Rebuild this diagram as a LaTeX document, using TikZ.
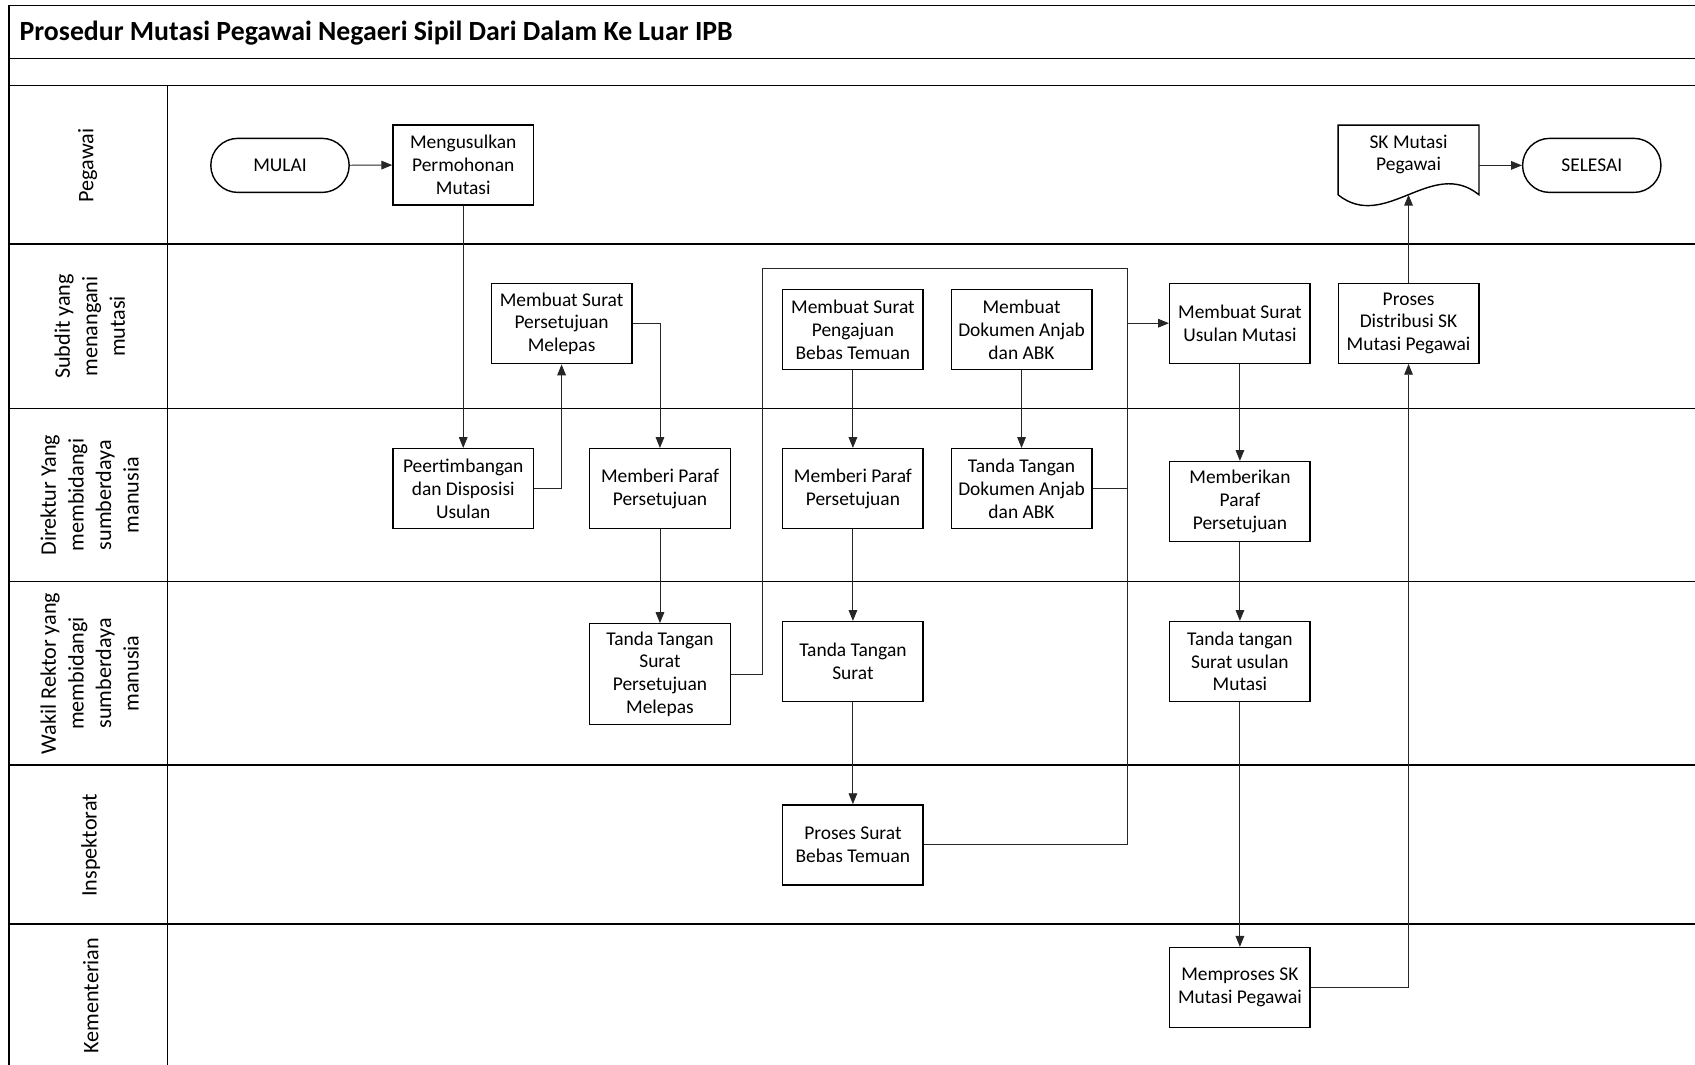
\documentclass[tikz,border=0pt]{standalone}
\usepackage{fontspec}
\setmainfont{Carlito}
\usetikzlibrary{arrows.meta,calc}
\begin{document}
\begin{tikzpicture}[x=1pt,y=-1pt,
  box/.style={draw, line width=1.3pt, minimum width=130pt, minimum height=74pt, align=center,
    font=\fontsize{18}{21}\selectfont, inner sep=2pt},
  term/.style={draw, line width=1.3pt, rounded corners=25pt, minimum width=128pt,
    minimum height=50pt, font=\fontsize{18}{21}\selectfont},
  lane/.style={line width=1.6pt},
  conn/.style={line width=0.8pt, draw=black!85},
  arr/.style={conn, -{Triangle[length=10pt,width=8pt]}},
  lanelbl/.style={rotate=90, align=center, font=\fontsize{20.5}{25.5}\selectfont, inner sep=0pt},
]
\useasboundingbox (0,0) rectangle (1568,985);

% frame and lanes
\draw[lane] (8,985) -- (8,5) -- (1568,5);
\draw[lane] (8,54) -- (1568,54);
\draw[lane] (8,79) -- (1568,79);
\foreach \yy in {226,378,538,708,855} \draw[lane] (8,\yy) -- (1568,\yy);
\draw[line width=1pt] (155,79) -- (155,985);

\node[anchor=west, inner sep=0pt, font=\bfseries\fontsize{25.7}{30}\selectfont] (title) at (18,31)
  {Prosedur Mutasi Pegawai Negaeri Sipil Dari Dalam Ke Luar IPB};

% lane labels
\node[lanelbl] (l1) at (81,153) {Pegawai};
\node[lanelbl] (l2) at (83,302) {Subdit yang\\menangani\\mutasi};
\node[lanelbl] (l3) at (83,458) {Direktur Yang\\membidangi\\sumberdaya\\manusia};
\node[lanelbl] (l4) at (83,623) {Wakil Rektor yang\\membidangi\\sumberdaya\\manusia};
\node[lanelbl] (l5) at (84,782) {Inspektorat};
\node[lanelbl] (l6) at (84,921) {Kementerian};

% nodes
\node[term] (mulai) at (259,153) {MULAI};
\node[box] (usul) at (428.5,152.5) {Mengusulkan\\Permohonan\\Mutasi};
\node[term] (selesai) at (1472.5,153) {SELESAI};

\node[minimum width=130pt, minimum height=64pt, inner sep=0pt] (sk) at (1303,148) {};
\node[align=center, font=\fontsize{18}{21}\selectfont] (sktxt) at (1303,143) {SK Mutasi\\Pegawai};
\draw[line width=1.3pt] (sk.south west) -- (sk.north west) -- (sk.north east) -- (sk.south east)
  .. controls (1324.7,145) and (1281.3,215) .. (sk.south west);
\coordinate (skb) at (sk.south);

\node[box] (melepas) at (519.5,299.5) {Membuat Surat\\Persetujuan\\Melepas};
\node[box] (pengajuan) at (789,305) {Membuat Surat\\Pengajuan\\Bebas Temuan};
\node[box] (anjab) at (945,305) {Membuat\\Dokumen Anjab\\dan ABK};
\node[box] (usulan) at (1147,299) {Membuat Surat\\Usulan Mutasi};
\node[box] (distribusi) at (1303,299) {Proses\\Distribusi SK\\Mutasi Pegawai};

\node[box] (pertimbangan) at (428.5,452) {Peertimbangan\\dan Disposisi\\Usulan};
\node[box] (paraf1) at (610.5,452) {Memberi Paraf\\Persetujuan};
\node[box] (paraf2) at (789,452) {Memberi Paraf\\Persetujuan};
\node[box] (ttdok) at (945,452) {Tanda Tangan\\Dokumen Anjab\\dan ABK};
\node[box] (paraf3) at (1147,464) {Memberikan\\Paraf\\Persetujuan};

\node[box, minimum height=93pt] (ttspm) at (610.5,623.5) {Tanda Tangan\\Surat\\Persetujuan\\Melepas};
\node[box] (ttsurat) at (789,612) {Tanda Tangan\\Surat};
\node[box] (ttusulan) at (1147,612) {Tanda tangan\\Surat usulan\\Mutasi};

\node[box] (psbt) at (789,781.5) {Proses Surat\\Bebas Temuan};
\node[box] (memproses) at (1147,913.5) {Memproses SK\\Mutasi Pegawai};

% connectors
\draw[arr] (mulai) -- (usul);
\draw[arr] (usul) -- (pertimbangan);
\draw[arr] (pertimbangan.east) -| (melepas.south);
\draw[arr] (melepas.east) -| (paraf1.north);
\draw[arr] (paraf1) -- (ttspm);
\draw[arr] (pengajuan) -- (paraf2);
\draw[arr] (paraf2) -- (ttsurat);
\draw[arr] (ttsurat) -- (psbt);
\draw[arr] (anjab) -- (ttdok);
\draw[arr] (usulan) -- (paraf3);
\draw[arr] (paraf3) -- (ttusulan);
\draw[arr] (ttusulan) -- (memproses);
\draw[arr] (memproses.east) -| (distribusi.south);
\draw[arr] (distribusi) -- (skb);
\draw[arr] (sk.east |- selesai.west) -- (selesai.west);

\coordinate (loopx) at (705,248);
\coordinate (bustop) at (1043,248);
\coordinate (busjoin) at (1043,299);
\draw[conn] (ttspm.east) -| (loopx) -- (bustop) -- (busjoin);
\draw[conn] (ttdok.east) -| (busjoin);
\draw[conn] (psbt.east) -| (busjoin);
\draw[arr] (busjoin) -- (usulan.west);
\end{tikzpicture}
\end{document}
